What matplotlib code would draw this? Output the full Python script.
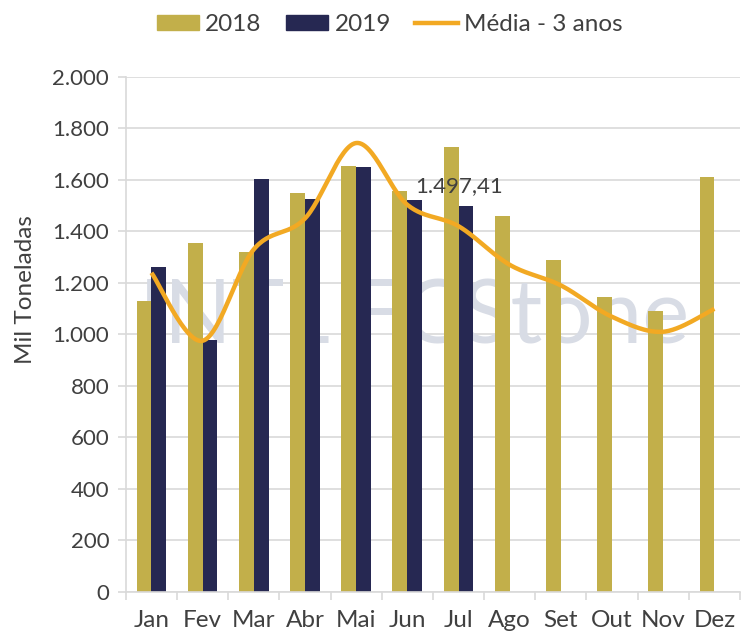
import numpy as np
import matplotlib.pyplot as plt
from matplotlib.patches import Patch
from matplotlib.lines import Line2D

months = ['Jan', 'Fev', 'Mar', 'Abr', 'Mai', 'Jun', 'Jul', 'Ago', 'Set', 'Out', 'Nov', 'Dez']
vals_2018 = [1130, 1355, 1320, 1550, 1655, 1557, 1728, 1460, 1289, 1146, 1091, 1612]
vals_2019 = [1262, 979, 1604, 1526, 1650, 1522, 1497.41]
media_3anos = [1239, 975, 1330, 1450, 1743, 1503, 1420, 1270, 1190, 1068, 1010, 1099]

c2018 = '#C2AF4A'
c2019 = '#262852'
cmedia = '#F2A923'
txt = '#404040'
grid = '#D9D9D9'

plt.rcParams['font.family'] = ['Lato', 'DejaVu Sans']


def smooth(x, y, n=30):
    # Catmull-Rom style smoothing, like the spreadsheet "smoothed line"
    x = np.asarray(x, float)
    y = np.asarray(y, float)
    px = np.concatenate([[x[0]], x, [x[-1]]])
    py = np.concatenate([[y[0]], y, [y[-1]]])
    xs, ys = [], []
    for i in range(1, len(px) - 2):
        t = np.linspace(0, 1, n)
        p0, p1, p2, p3 = px[i - 1], px[i], px[i + 1], px[i + 2]
        q0, q1, q2, q3 = py[i - 1], py[i], py[i + 1], py[i + 2]
        # Bezier control points
        b1x, b1y = p1 + (p2 - p0) / 6, q1 + (q2 - q0) / 6
        b2x, b2y = p2 - (p3 - p1) / 6, q2 - (q3 - q1) / 6
        xs.append((1 - t) ** 3 * p1 + 3 * (1 - t) ** 2 * t * b1x + 3 * (1 - t) * t ** 2 * b2x + t ** 3 * p2)
        ys.append((1 - t) ** 3 * q1 + 3 * (1 - t) ** 2 * t * b1y + 3 * (1 - t) * t ** 2 * b2y + t ** 3 * q2)
    return np.concatenate(xs), np.concatenate(ys)


fig = plt.figure(figsize=(7.49, 6.35), dpi=100)
ax = fig.add_axes([0.168, 0.068, 0.82, 0.811])

x = np.arange(len(months))
w = 0.29
ax.bar(x - w / 2, vals_2018, w, color=c2018, zorder=2)
ax.bar(x[:len(vals_2019)] + w / 2, vals_2019, w, color=c2019, zorder=2)

sx, sy = smooth(x, media_3anos)
ax.plot(sx, sy, color=cmedia, lw=3.2, zorder=3, solid_capstyle='butt')

# data label on last 2019 value
ax.text(x[6] + w / 2 - 0.13, vals_2019[6] + 40, '1.497,41', ha='center', va='bottom',
        fontsize=16, color=txt, zorder=4)

# watermark
ax.text(0.47, 0.53, 'INTL FCStone', transform=ax.transAxes, ha='center', va='center',
        fontsize=64, color='#D8DCE5', zorder=1)

ax.set_xlim(-0.5, 11.5)
ax.set_ylim(0, 2000)
ax.set_yticks(np.arange(0, 2001, 200))
ax.set_yticklabels([f'{v:,}'.replace(',', '.') for v in range(0, 2001, 200)])
ax.set_xticks(x)
ax.set_xticklabels(months)
ax.set_xticks(np.arange(-0.5, 11.6, 1), minor=True)
ax.tick_params(axis='x', which='major', length=0, pad=13, labelsize=17.5, labelcolor=txt)
ax.tick_params(axis='x', which='minor', length=6, color=grid, width=1.2)
ax.tick_params(axis='y', length=6, color=grid, width=1.2, labelsize=16, labelcolor=txt, pad=6)
ax.yaxis.grid(True, color=grid, lw=1.2, zorder=0)
ax.set_axisbelow(True)
for s in ['top', 'right']:
    ax.spines[s].set_visible(False)
for s in ['left', 'bottom']:
    ax.spines[s].set_color(grid)
    ax.spines[s].set_linewidth(1.2)
ax.set_ylabel('Mil Toneladas', fontsize=17.5, color=txt)
ax.yaxis.set_label_coords(-0.147, 0.586)

handles = [Patch(color=c2018, label='2018'), Patch(color=c2019, label='2019'),
           Line2D([0], [0], color=cmedia, lw=3.2, label='Média - 3 anos')]
fig.legend(handles=handles, loc='upper center', bbox_to_anchor=(0.52, 1.012), ncol=3,
           frameon=False, fontsize=17.5, labelcolor=txt, handlelength=1.75, handleheight=0.55,
           columnspacing=1.0, handletextpad=0.25)

plt.savefig('out.png', dpi=100)
